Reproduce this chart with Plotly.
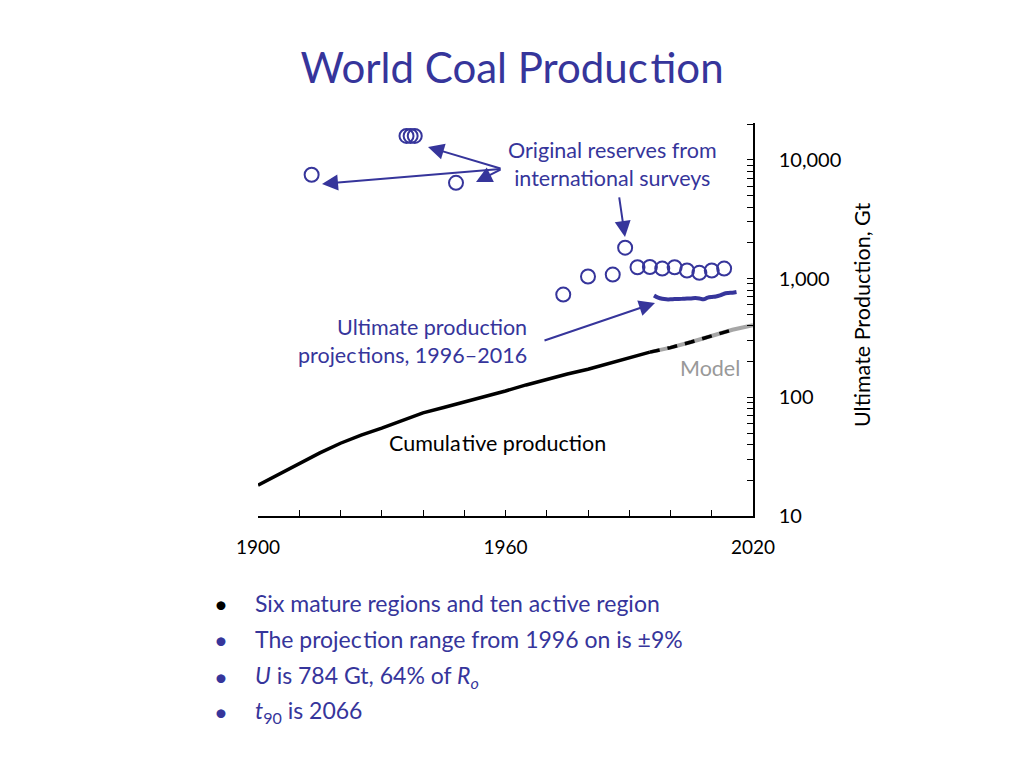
import plotly.graph_objects as go

# ---------------- data ----------------
reserve_years = [1913, 1936, 1937, 1938, 1948, 1974, 1980, 1986, 1989,
                 1992, 1995, 1998, 2001, 2004, 2007, 2010, 2013]
reserve_vals = [7480, 15900, 15900, 15900, 6400, 733, 1040, 1080, 1820,
                1245, 1250, 1214, 1245, 1168, 1117, 1168, 1214]

cum_years = [1900, 1905, 1910, 1915, 1920, 1925, 1930, 1935, 1940, 1945,
             1950, 1955, 1960, 1965, 1970, 1975, 1980, 1985, 1990, 1995]
cum_vals = [18.2, 22.5, 28, 34, 41, 48, 55, 64, 74, 82,
            91, 101, 113, 127, 142, 157, 172, 192, 215, 240]
cum_late_years = [1995, 2000, 2005, 2010, 2015]
cum_late_vals = [240, 262, 292, 330, 370]

model_years = [1995, 2000, 2005, 2010, 2015, 2020]
model_vals = [240, 262, 292, 330, 370, 405]

proj_years = list(range(1996, 2017))
proj_vals = [720, 690, 675, 668, 668, 672, 672, 675, 678, 680, 685,
             680, 668, 690, 700, 705, 720, 745, 755, 760, 770]

x_minor = list(range(1900, 2021, 10))
x_labels = [1900, 1960, 2020]
y_major = [10, 100, 1000, 10000]
y_major_text = ["10", "100", "1,000", "10,000"]

PURPLE = "#36359b"
FONT = "Lato"
ZW = "\u200a"  # hair space, breaks the 'ti' ligature

# ---------------- figure ----------------
OFF = 8  # page body margin
L, R, T, B = 258, 753, 123, 516  # plot area in page pixels


def paper(xp, yp):
    return (xp - L) / (R - L), (B - yp) / (B - T)


def to_data(xp, yp):
    return 1900 + (xp - L) / ((R - L) / 120.0), 1 + (B - yp) / 118.7


fig = go.Figure()

fig.add_trace(go.Scatter(x=model_years, y=model_vals, mode="lines",
                         line=dict(color="#a6a6a6", width=4), hoverinfo="skip"))
fig.add_trace(go.Scatter(x=cum_years, y=cum_vals, mode="lines",
                         line=dict(color="black", width=3.5), hoverinfo="skip"))
fig.add_trace(go.Scatter(x=cum_late_years, y=cum_late_vals, mode="lines",
                         line=dict(color="black", width=3.5, dash="10px,8px"),
                         hoverinfo="skip"))
fig.add_trace(go.Scatter(x=proj_years, y=proj_vals, mode="lines",
                         line=dict(color=PURPLE, width=4, shape="spline"),
                         hoverinfo="skip"))
fig.add_trace(go.Scatter(x=reserve_years, y=reserve_vals, mode="markers",
                         marker=dict(symbol="circle-open", size=14,
                                     color=PURPLE, line=dict(width=2, color=PURPLE)),
                         hoverinfo="skip"))

y_minor = [dec * m for dec in [10, 100, 1000, 10000] for m in range(2, 10)
           if dec * m <= 20000]

fig.update_xaxes(range=[1900, 2020], tickvals=x_labels,
                 ticktext=[str(v) for v in x_labels],
                 ticks="inside", ticklen=6, tickcolor="black", tickwidth=1,
                 minor=dict(tickvals=x_minor, ticks="inside", ticklen=6,
                            tickcolor="black", tickwidth=1),
                 showline=True, linecolor="black", linewidth=1.5,
                 showgrid=False, zeroline=False, ticklabelstandoff=13,
                 tickfont=dict(family=FONT, size=19, color="black"))
fig.update_yaxes(type="log", range=[1, 4.31], side="right",
                 tickvals=y_major, ticktext=y_major_text,
                 ticks="inside", ticklen=6, tickcolor="black", tickwidth=1,
                 minor=dict(tickvals=y_minor, ticks="inside", ticklen=6,
                            tickcolor="black", tickwidth=1),
                 showline=True, linecolor="black", linewidth=1.5,
                 showgrid=False, zeroline=False, ticklabelstandoff=20,
                 tickfont=dict(family=FONT, size=20, color="black"))

ann = []


def text(xp, yp, s, color=PURPLE, size=21.5, xanchor="center", align="center", angle=0):
    px_, py_ = paper(xp, yp)
    ann.append(dict(x=px_, y=py_, xref="paper", yref="paper", text=s,
                    showarrow=False, xanchor=xanchor, yanchor="middle",
                    align=align, textangle=angle,
                    font=dict(family=FONT, size=size, color=color)))


def arrow(head, tail):
    hx, hy = to_data(*head)
    ann.append(dict(x=hx, y=hy, xref="x", yref="y", ax=tail[0] - head[0],
                    ay=tail[1] - head[1], axref="pixel", ayref="pixel",
                    showarrow=True, arrowhead=2, arrowsize=1.6, arrowwidth=2,
                    arrowcolor=PURPLE, text=""))


text(612, 164, "Original reserves from<br>international surveys")
text(529, 341, "Ultimate production<br>projec" + ZW + "tions, 1996\u20132016",
     xanchor="right", align="right")
text(497, 443, "Cumula" + ZW + "tive production", color="black")
text(710, 368, "Model", color="#999999")
text(862, 315, "Ultimate Production, Gt", color="black", size=21.5, angle=-90)

arrow((428, 147), (502, 169))
arrow((322, 184), (502, 169))
arrow((476, 182), (502, 169))
arrow((625, 237), (619, 196))
arrow((655, 303), (543, 341))

# bullets
bullets = [
    "Six mature regions and ten ac" + ZW + "tive region",
    "The projec" + ZW + "tion range from 1996 on is \u00b19%",
    "<i>U</i> is 784 Gt, 64% of <i>R</i><sub><i>o</i></sub>",
    "<i>t</i><sub>90</sub> is 2066",
]
bullet_y = [603, 639, 676, 711]
for i, (s, yb) in enumerate(zip(bullets, bullet_y)):
    text(221, yb, "\u2022", color="black" if i == 0 else PURPLE, size=24)
    text(253, yb, s, size=23, xanchor="left", align="left")

fig.update_layout(
    width=1024, height=768,
    margin=dict(l=L - OFF, r=1024 - (R - OFF), t=T - OFF, b=768 - (B - OFF)),
    paper_bgcolor="white", plot_bgcolor="white",
    showlegend=False,
    title=dict(text="World Coal Produc" + ZW + "tion", x=(512 - OFF) / 1024,
               xref="container", y=1 - (68 - OFF) / 768, yref="container",
               xanchor="center", yanchor="middle",
               font=dict(family=FONT, size=42, color=PURPLE)),
    annotations=ann,
)

fig.write_html("out.html")
